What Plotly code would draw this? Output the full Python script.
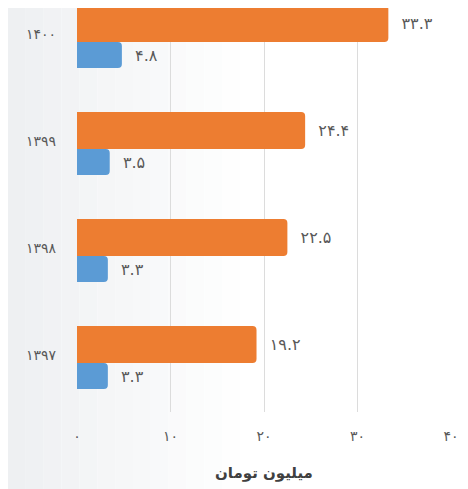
import plotly.graph_objects as go

years = ["1397", "1398", "1399", "1400"]
orange_vals = [19.2, 22.5, 24.4, 33.3]
blue_vals = [3.3, 3.3, 3.5, 4.8]
x_ticks = [0, 10, 20, 30, 40]
x_title = "میلیون تومان"

FA = str.maketrans("0123456789", "۰۱۲۳۴۵۶۷۸۹")
def fa(v):
    return str(v).translate(FA)

year_labels = [fa(y) for y in years]
FONT = "DejaVu Sans, Noto Sans, sans-serif"
TXT = "#595959"
PAD = "\u00a0\u00a0"

fig = go.Figure()
fig.add_trace(go.Bar(
    y=year_labels, x=orange_vals, orientation="h",
    marker=dict(color="#ED7D31", cornerradius=4, line=dict(width=0)),
    width=0.346, offset=-0.075,
    text=[PAD + fa(v) for v in orange_vals], textposition="outside",
    textfont=dict(size=16, color=TXT, family=FONT),
    cliponaxis=False, showlegend=False, hoverinfo="x",
))
fig.add_trace(go.Bar(
    y=year_labels, x=blue_vals, orientation="h",
    marker=dict(color="#5B9BD5", cornerradius=4, line=dict(width=0)),
    width=0.243, offset=-0.318,
    text=[PAD + fa(v) for v in blue_vals], textposition="outside",
    textfont=dict(size=16, color=TXT, family=FONT),
    cliponaxis=False, showlegend=False, hoverinfo="x",
))

# figure geometry (page has an 8px body margin)
L, R, T, B = 69, 17, 0, 77
W, H = 460, 481
pw, ph = W - L - R, H - T - B

# smooth light-grey wash fading from the left edge
band = []
n = 14
start = (0xee, 0xf0, 0xf2)
x_end = 250
for i in range(n):
    px0 = -L + i * (x_end / n)
    px1 = -L + (i + 1) * (x_end / n)
    t = i / (n - 1)
    c = tuple(int(round(s + (255 - s) * t)) for s in start)
    band.append(dict(type="rect", xref="paper", yref="paper",
                     x0=px0 / pw, x1=px1 / pw, y0=-B / ph, y1=1,
                     fillcolor="rgb(%d,%d,%d)" % c, line=dict(width=0), layer="below"))

fig.update_layout(
    width=W, height=H,
    margin=dict(l=L, r=R, t=T, b=B, autoexpand=False),
    paper_bgcolor="white", plot_bgcolor="rgba(0,0,0,0)",
    barmode="overlay",
    font=dict(family=FONT, color=TXT, size=14),
    shapes=band,
    xaxis=dict(range=[0, 40], tickvals=x_ticks, ticktext=[fa(t) for t in x_ticks],
               showgrid=True, gridcolor="#dcdcdc", gridwidth=1, zeroline=False,
               showline=False, ticks="", ticklabelstandoff=14,
               tickfont=dict(size=14, color=TXT, family=FONT),
               title=dict(text="<b>" + x_title + "</b>", standoff=24,
                          font=dict(size=15, color="#404040", family=FONT)),
               fixedrange=True, automargin=False),
    yaxis=dict(type="category", range=[-0.533, 3.243], showgrid=False, zeroline=False,
               showline=False, ticks="", ticklabelstandoff=20,
               tickfont=dict(size=14, color=TXT, family=FONT), fixedrange=True,
               automargin=False),
)

fig.write_html("out.html")
